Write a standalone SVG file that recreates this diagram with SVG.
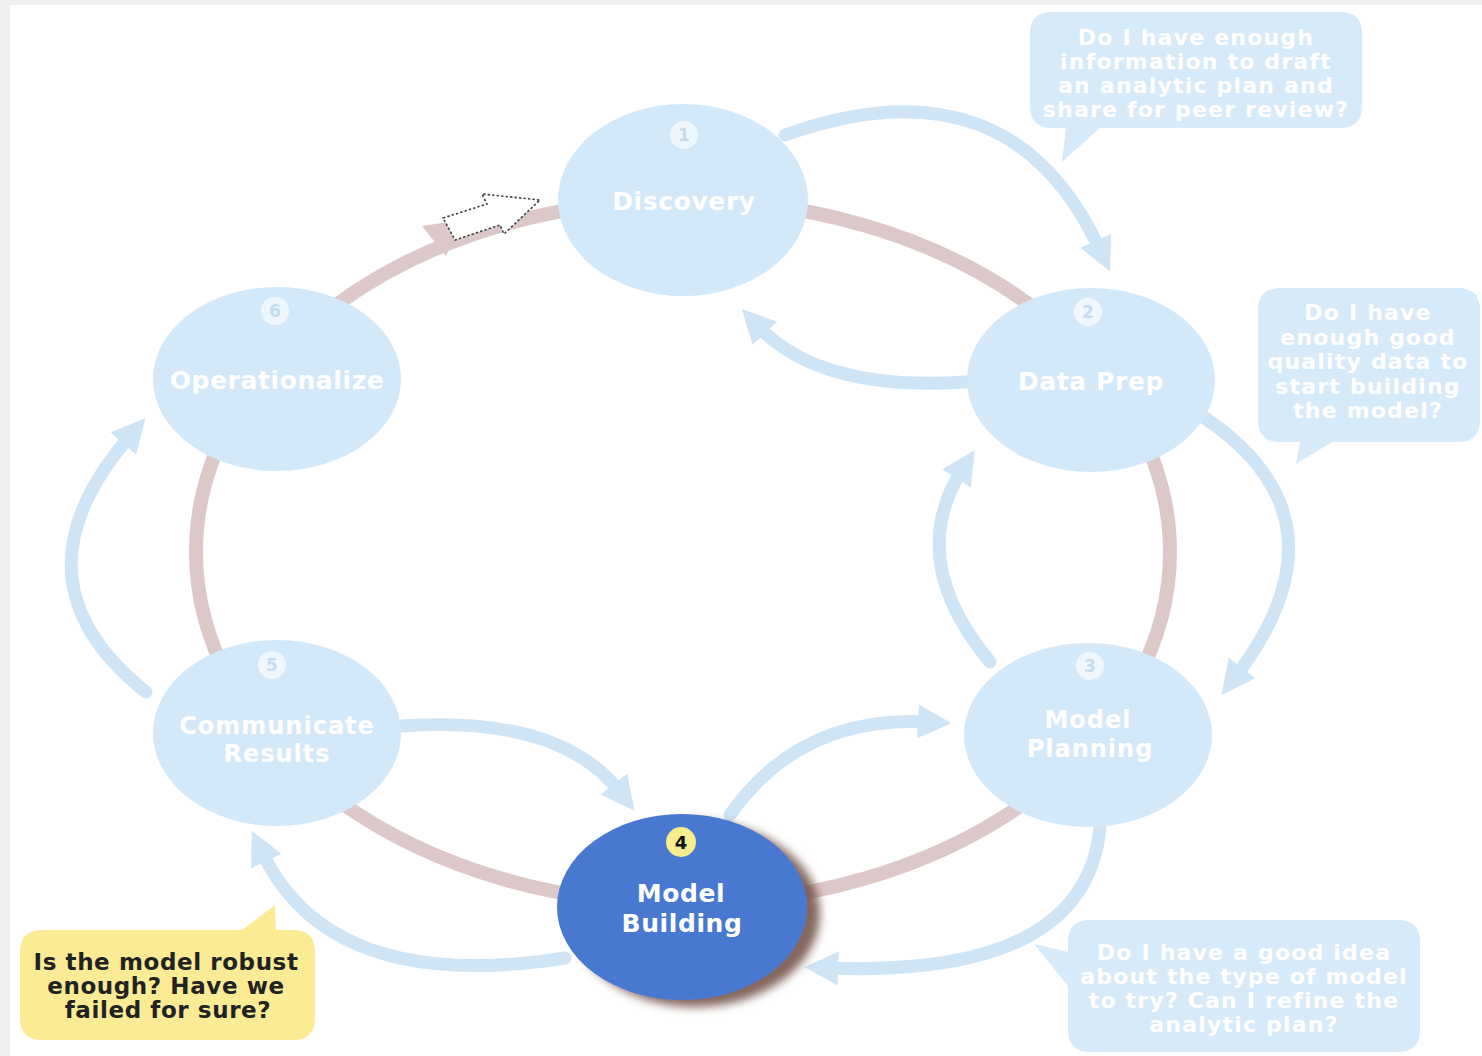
<svg xmlns="http://www.w3.org/2000/svg" width="1482" height="1056" viewBox="0 0 1482 1056">
  <style>
    .frame { fill: #f0f0f0; }
    .page { fill: #ffffff; }
    .ring { fill: none; stroke: #dcc8c8; stroke-width: 14; }
    .flow { fill: none; stroke: #cfe5f6; stroke-width: 13; stroke-linecap: round; }
    .node { fill: #d3e8f9; }
    .badge { fill: #eef7fd; }
    .badge-num { font-family: "DejaVu Sans", sans-serif; font-weight: bold; font-size: 17px; fill: #c4dcef; text-anchor: middle; }
    .label { font-family: "DejaVu Sans", sans-serif; font-weight: bold; font-size: 25px; letter-spacing: 0.6px; fill: #ffffff; text-anchor: middle; }
    .label2 { font-family: "DejaVu Sans", sans-serif; font-weight: bold; font-size: 24px; letter-spacing: 1px; fill: #ffffff; text-anchor: middle; }
    .bubble { fill: #d6eaf9; }
    .btext { font-family: "DejaVu Sans", sans-serif; font-weight: bold; font-size: 22px; letter-spacing: 1.2px; fill: #ffffff; text-anchor: middle; }
    .ybubble { fill: #fbeb94; }
    .ytext { font-family: "DejaVu Sans", sans-serif; font-weight: bold; font-size: 23px; letter-spacing: 0.6px; fill: #222222; text-anchor: middle; }
  </style>
  <defs>
    <marker id="ah" viewBox="0 0 10 10" refX="3" refY="5" markerWidth="34" markerHeight="34" markerUnits="userSpaceOnUse" orient="auto">
      <path d="M0,0 L10,5 L0,10 z" fill="#cfe5f6"/>
    </marker>
    <filter id="shadow" x="-30%" y="-30%" width="160%" height="160%">
      <feGaussianBlur in="SourceAlpha" stdDeviation="5"/>
      <feOffset dx="13" dy="7" result="b"/>
      <feFlood flood-color="#6e4c42" flood-opacity="0.85"/>
      <feComposite in2="b" operator="in"/>
      <feMerge><feMergeNode/><feMergeNode in="SourceGraphic"/></feMerge>
    </filter>
  </defs>

  <!-- page frame -->
  <rect class="frame" x="0" y="0" width="1482" height="1056"/>
  <rect class="page" x="10" y="5" width="1472" height="1051"/>

  <!-- main cycle ring -->
  <g id="cycle">
    <ellipse class="ring" cx="683" cy="552" rx="487" ry="352"/>
    <polygon points="422,226 462,220 446,256" fill="#dcc8c8"/>
    <!-- dashed outline arrow re-entering Discovery -->
    <polygon points="443,218 487,204 482,194 540,200 504,234 500,225 455,240" fill="#ffffff" stroke="#444444" stroke-width="1.6" stroke-dasharray="2.5,2"/>
  </g>

  <!-- connectors between phases -->
  <g id="connectors">
    <path class="flow" d="M 785 135 Q 1010 55 1100 250" marker-end="url(#ah)"/>
    <path class="flow" d="M 966 382 Q 820 392 758 326" marker-end="url(#ah)"/>
    <path class="flow" d="M 1205 418 Q 1355 520 1236 676" marker-end="url(#ah)"/>
    <path class="flow" d="M 990 662 Q 905 560 962 470" marker-end="url(#ah)"/>
    <path class="flow" d="M 730 815 Q 800 715 928 722" marker-end="url(#ah)"/>
    <path class="flow" d="M 1100 828 Q 1085 978 828 968" marker-end="url(#ah)"/>
    <path class="flow" d="M 402 726 Q 560 715 620 792" marker-end="url(#ah)"/>
    <path class="flow" d="M 565 958 Q 330 995 262 852" marker-end="url(#ah)"/>
    <path class="flow" d="M 146 692 Q 5 580 130 436" marker-end="url(#ah)"/>
  </g>

  <!-- phase 1 -->
  <g id="discovery">
    <ellipse class="node" cx="683" cy="200" rx="125" ry="96"/>
    <circle class="badge" cx="684" cy="135" r="14"/>
    <text class="badge-num" x="684" y="141">1</text>
    <text class="label" x="684" y="210">Discovery</text>
  </g>

  <!-- phase 2 -->
  <g id="data-prep">
    <ellipse class="node" cx="1091" cy="380" rx="124" ry="92"/>
    <circle class="badge" cx="1088" cy="312" r="14"/>
    <text class="badge-num" x="1088" y="318">2</text>
    <text class="label" x="1091" y="390">Data Prep</text>
  </g>

  <!-- phase 3 -->
  <g id="model-planning">
    <ellipse class="node" cx="1088" cy="735" rx="124" ry="92"/>
    <circle class="badge" cx="1090" cy="666" r="14"/>
    <text class="badge-num" x="1090" y="672">3</text>
    <text class="label2" x="1088" y="728">Model</text>
    <text class="label2" x="1090" y="757">Planning</text>
  </g>

  <!-- phase 4 (current) -->
  <g id="model-building">
    <ellipse cx="682" cy="907" rx="125" ry="93" fill="#4a78d0" filter="url(#shadow)"/>
    <circle cx="681" cy="842" r="15" fill="#f5ec8c"/>
    <text x="681" y="849" font-family="DejaVu Sans, sans-serif" font-weight="bold" font-size="18" fill="#111111" text-anchor="middle">4</text>
    <text class="label" x="681" y="902" font-size="26">Model</text>
    <text class="label" x="682" y="932" font-size="26">Building</text>
  </g>

  <!-- phase 5 -->
  <g id="communicate-results">
    <ellipse class="node" cx="277" cy="733" rx="124" ry="93"/>
    <circle class="badge" cx="272" cy="665" r="14"/>
    <text class="badge-num" x="272" y="671">5</text>
    <text class="label2" x="277" y="734">Communicate</text>
    <text class="label2" x="277" y="762">Results</text>
  </g>

  <!-- phase 6 -->
  <g id="operationalize">
    <ellipse class="node" cx="277" cy="379" rx="124" ry="92"/>
    <circle class="badge" cx="275" cy="311" r="14"/>
    <text class="badge-num" x="275" y="317">6</text>
    <text class="label" x="277" y="389">Operationalize</text>
  </g>

  <!-- question callouts -->
  <g id="callout-discovery">
    <path class="bubble" d="M 1052 12 H 1340 Q 1362 12 1362 34 V 106 Q 1362 128 1340 128 H 1100 L 1062 162 L 1066 128 H 1052 Q 1030 128 1030 106 V 34 Q 1030 12 1052 12 Z"/>
    <text class="btext" x="1196" y="45">Do I have enough</text>
    <text class="btext" x="1196" y="69">information to draft</text>
    <text class="btext" x="1196" y="93">an analytic plan and</text>
    <text class="btext" x="1196" y="117">share for peer review?</text>
  </g>

  <g id="callout-data-prep">
    <path class="bubble" d="M 1280 288 H 1458 Q 1480 288 1480 310 V 420 Q 1480 442 1458 442 H 1332 L 1296 464 L 1300 442 H 1280 Q 1258 442 1258 420 V 310 Q 1258 288 1280 288 Z"/>
    <text class="btext" x="1368" y="320">Do I have</text>
    <text class="btext" x="1368" y="345">enough good</text>
    <text class="btext" x="1368" y="369">quality data to</text>
    <text class="btext" x="1368" y="394">start building</text>
    <text class="btext" x="1368" y="418">the model?</text>
  </g>

  <g id="callout-model-planning">
    <path class="bubble" d="M 1090 920 H 1398 Q 1420 920 1420 942 V 1030 Q 1420 1052 1398 1052 H 1090 Q 1068 1052 1068 1030 V 986 L 1034 944 L 1068 952 V 942 Q 1068 920 1090 920 Z"/>
    <text class="btext" x="1244" y="960">Do I have a good idea</text>
    <text class="btext" x="1244" y="984">about the type of model</text>
    <text class="btext" x="1244" y="1008">to try? Can I refine the</text>
    <text class="btext" x="1244" y="1032">analytic plan?</text>
  </g>

  <g id="callout-model-building">
    <path class="ybubble" d="M 42 930 H 242 L 275 905 L 276 930 H 293 Q 315 930 315 952 V 1018 Q 315 1040 293 1040 H 42 Q 20 1040 20 1018 V 952 Q 20 930 42 930 Z"/>
    <text class="ytext" x="166" y="970">Is the model robust</text>
    <text class="ytext" x="166" y="994">enough? Have we</text>
    <text class="ytext" x="168" y="1018">failed for sure?</text>
  </g>
</svg>
